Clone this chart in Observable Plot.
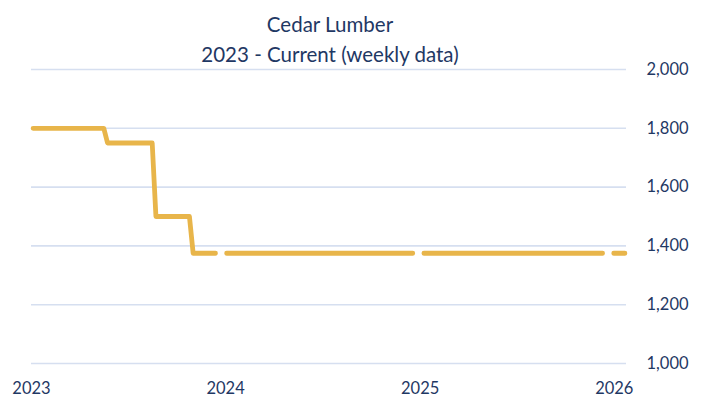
<!DOCTYPE html>
<html>
<head>
<meta charset="utf-8">
<script src="https://cdn.jsdelivr.net/npm/d3@7"></script>
<script src="https://cdn.jsdelivr.net/npm/@observablehq/plot@0.6"></script>
<style>
  html, body { margin: 0; padding: 0; background: #ffffff; }
  #wrap { position: relative; width: 704px; height: 401px; overflow: hidden; }
  .ttl { position: absolute; left: 31px; width: 598px; text-align: center;
         font-family: Lato, "Open Sans", sans-serif; font-size: 20.5px; line-height: 1.2;
         color: #1F3864; white-space: nowrap; }
  #wrap svg { position: absolute; left: 0; top: 0; }
</style>
</head>
<body>
<div id="wrap">
  <div class="ttl" id="t1" style="top:12px">Cedar Lumber</div>
  <div class="ttl" id="t2" style="top:42px">2023 - Current (weekly data)</div>
</div>
<script>
// Weekly price series (vertices of the step line; null = missing weeks)
const dates = [
  "2023-01-04", "2023-05-17", "2023-05-24", "2023-08-16", "2023-08-23",
  "2023-10-25", "2023-11-01", "2023-12-13", "2023-12-20", "2024-01-03",
  "2024-12-18", "2024-12-25", "2025-01-08", "2025-12-10", "2025-12-17",
  "2025-12-31", "2026-01-21"
];
const prices = [
  1800, 1800, 1750, 1750, 1500,
  1500, 1375, 1375, null, 1375,
  1375, null, 1375, 1375, null,
  1375, 1375
];
const xTickLabels = ["2023", "2024", "2025", "2026"];
const yTicks = [1000, 1200, 1400, 1600, 1800, 2000];

const data = dates.map((d, i) => ({date: new Date(d + "T00:00:00Z"), price: prices[i]}));
const xTicks = xTickLabels.map(y => new Date(y + "-01-01T00:00:00Z"));

const navy = "#1F3864";
const chart = Plot.plot({
  width: 704,
  height: 401,
  marginTop: 69,
  marginBottom: 38,
  marginLeft: 31,
  marginRight: 78,
  style: {fontFamily: "Lato, 'Open Sans', sans-serif", fontSize: "16.5px", color: navy, background: "transparent"},
  x: {type: "utc", domain: [new Date("2023-01-01T00:00:00Z"), new Date("2026-01-24T00:00:00Z")]},
  y: {domain: [1000, 2000]},
  marks: [
    Plot.gridY(yTicks, {stroke: "#D6DFF0", strokeOpacity: 1, strokeWidth: 1.6}),
    Plot.line(data, {x: "date", y: "price", stroke: "#E8B54A", strokeWidth: 4.8,
                     strokeLinecap: "round", strokeLinejoin: "round"}),
    Plot.axisX(xTicks, {tickSize: 0, tickPadding: 19, tickFormat: d => d.getUTCFullYear().toString(),
                        fontSize: 16.5, fill: navy, label: null}),
    Plot.axisY(yTicks, {anchor: "right", tickSize: 0, tickPadding: 20, tickFormat: d3.format(","),
                        fontSize: 16.5, fill: navy, label: null})
  ]
});
document.getElementById("wrap").prepend(chart);
</script>
</body>
</html>
